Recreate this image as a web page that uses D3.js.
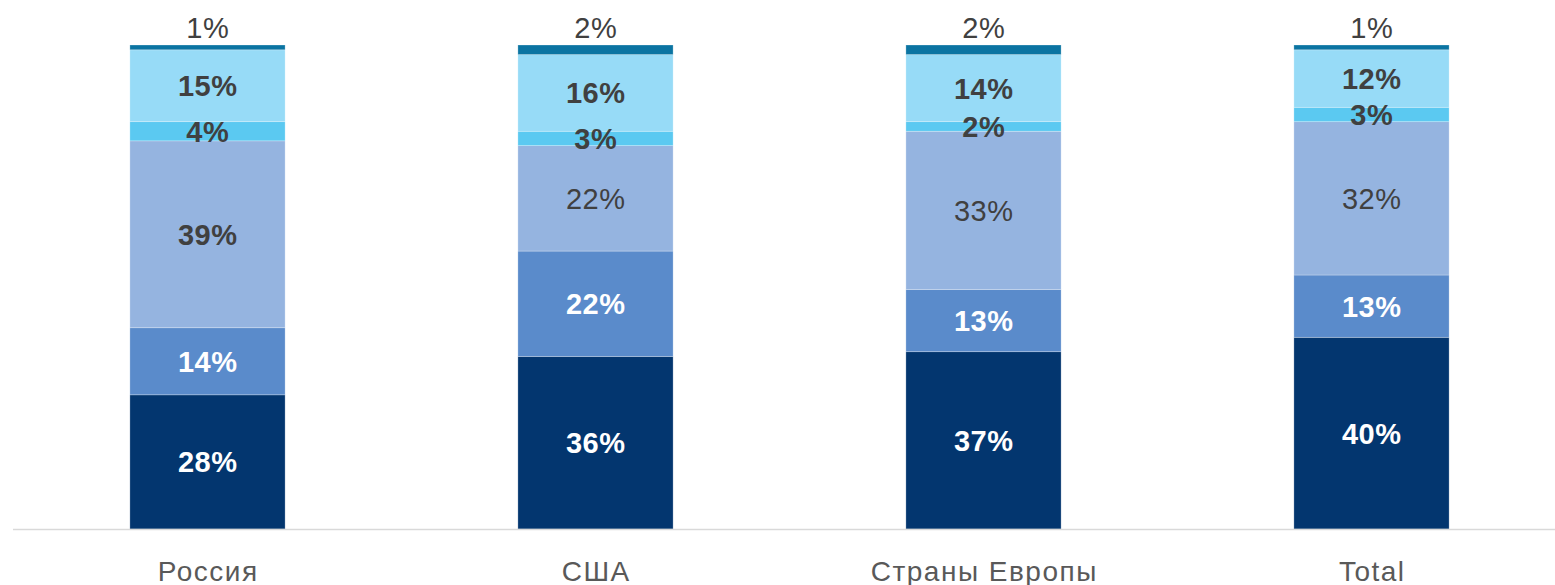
<!doctype html>
<html>
<head>
<meta charset="utf-8">
<title>Stacked shares</title>
<style type="text/css">
  body { margin: 0; background: #fff; }
  svg { font-family: "Liberation Sans", Arial, sans-serif; }
</style>
</head>
<body>
<div id="my_dataviz"></div>

<script src="https://d3js.org/d3.v7.js"></script>
<script>
// categories (x axis)
const categories = ["Россия", "США", "Страны Европы", "Total"];
// series, bottom to top
const keys = ["s1", "s2", "s3", "s4", "s5", "s6"];
const s1 = [28, 36, 37, 40];
const s2 = [14, 22, 13, 13];
const s3 = [39, 22, 33, 32];
const s4 = [4, 3, 2, 3];
const s5 = [15, 16, 14, 12];
const s6 = [1, 2, 2, 1];

const colors = ["#03366f", "#5a8bcb", "#95b4e0", "#5bc9f1", "#97dbf7", "#0b74a2"];

var width = 1555, height = 585;

var rows = categories.map(function(c, i) {
  return {cat: c, s1: s1[i], s2: s2[i], s3: s3[i], s4: s4[i], s5: s5[i], s6: s6[i]};
});

var stackedData = d3.stack()
  .keys(keys)
  .offset(d3.stackOffsetExpand)(rows);

var svg = d3.select("#my_dataviz")
  .append("svg")
  .attr("width", width)
  .attr("height", height);

var x = d3.scaleBand()
  .domain(categories)
  .range([13.5, 1565.5])
  .paddingInner(0.6)
  .paddingOuter(0.3);

var y = d3.scaleLinear()
  .domain([0, 1])
  .range([529, 45]);

// bars
svg.append("g")
  .selectAll("g")
  .data(stackedData)
  .enter().append("g")
    .style("fill", function(d, i) { return colors[i]; })
  .selectAll("rect")
  .data(function(d) { return d; })
  .enter().append("rect")
    .attr("x", function(d) { return x(d.data.cat); })
    .attr("y", function(d) { return y(d[1]); })
    .attr("height", function(d) { return y(d[0]) - y(d[1]); })
    .attr("width", x.bandwidth())
    .style("stroke", "rgba(255,255,255,0.35)")
    .style("stroke-width", 0.75);

// baseline
svg.append("line")
  .attr("x1", 13).attr("x2", width)
  .attr("y1", 529.5).attr("y2", 529.5)
  .style("stroke", "#d9d9d9")
  .style("stroke-width", 1.5);

// category labels
var xAxis = svg.append("g")
  .attr("transform", "translate(0,529)")
  .call(d3.axisBottom(x).tickSize(0).tickPadding(0));
xAxis.select(".domain").remove();
xAxis.selectAll("text")
  .attr("y", 52)
  .attr("dy", 0)
  .attr("dx", 0.75)
  .style("font-family", "'Liberation Sans', Arial, sans-serif")
  .style("font-size", "28px")
  .style("letter-spacing", "1.5px")
  .style("fill", "#595959");

// value labels
stackedData.forEach(function(series, si) {
  series.forEach(function(d, ci) {
    var val = rows[ci][series.key];
    var cx = x(d.data.cat) + x.bandwidth() / 2;
    var ty, bold, fill;
    if (si === keys.length - 1) {
      ty = y(d[1]) - 7;
      bold = false;
      fill = "#404040";
    } else {
      ty = (y(d[0]) + y(d[1])) / 2 + 10.5;
      bold = si !== 2 || ci === 0;
      fill = si < 2 ? "#ffffff" : "#404040";
    }
    svg.append("text")
      .attr("x", cx + 0.25)
      .attr("y", ty)
      .attr("text-anchor", "middle")
      .style("font-size", "29px")
      .style("letter-spacing", "0.5px")
      .style("font-weight", bold ? "bold" : "normal")
      .style("fill", fill)
      .text(val + "%");
  });
});
</script>
</body>
</html>
